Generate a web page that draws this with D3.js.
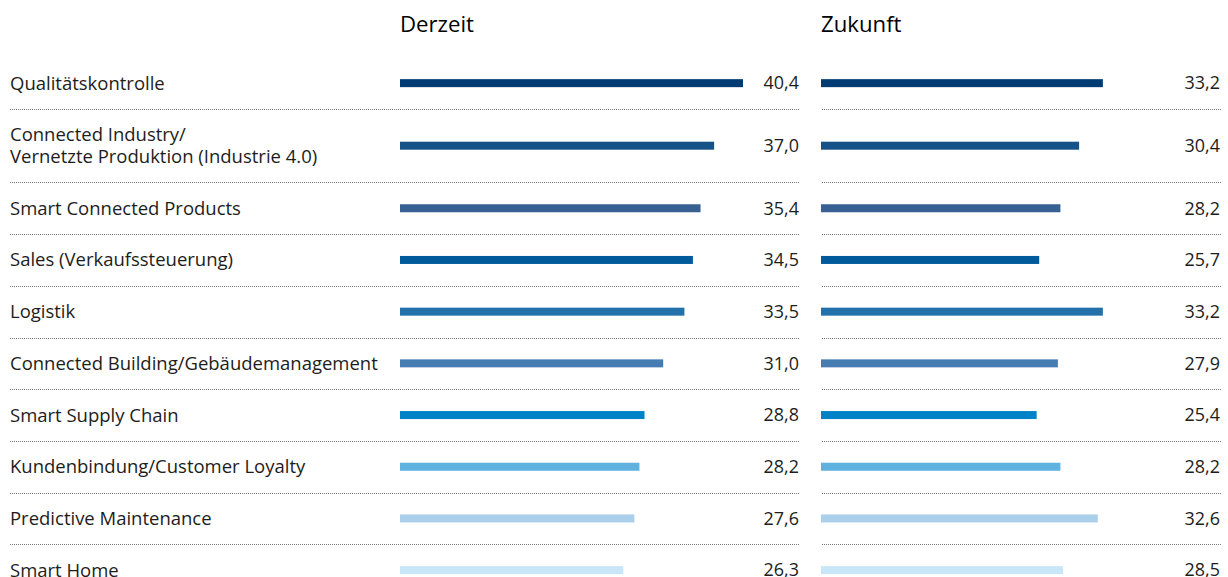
<!DOCTYPE html>
<html>
<head>
<meta charset="utf-8">
<script src="https://cdn.jsdelivr.net/npm/d3@7"></script>
<style>
  html, body { margin: 0; padding: 0; background: #fff; }
  svg { display: block; }
  text { font-family: "Open Sans", Lato, sans-serif; fill: #1d1d1b; }
</style>
</head>
<body>
<svg id="chart" width="1228" height="577"></svg>
<script>
const categories = [
  ["Qualitätskontrolle"],
  ["Connected Industry/", "Vernetzte Produktion (Industrie 4.0)"],
  ["Smart Connected Products"],
  ["Sales (Verkaufssteuerung)"],
  ["Logistik"],
  ["Connected Building/Gebäudemanagement"],
  ["Smart Supply Chain"],
  ["Kundenbindung/Customer Loyalty"],
  ["Predictive Maintenance"],
  ["Smart Home"]
];
const derzeit = [40.4, 37.0, 35.4, 34.5, 33.5, 31.0, 28.8, 28.2, 27.6, 26.3];
const zukunft = [33.2, 30.4, 28.2, 25.7, 33.2, 27.9, 25.4, 28.2, 32.6, 28.5];
const panelTitles = ["Derzeit", "Zukunft"];
const colors = ["#003c73", "#165288", "#386193", "#005a9c", "#2271aa", "#477cb3", "#0082c6", "#5fb1df", "#a9cfea", "#c8e6f8"];

const svg = d3.select("#chart");
const fmt = v => d3.format(".1f")(v).replace(".", ",");

// fit a font size so that a reference string spans a target width
function fitSize(str, targetW, weight) {
  const t = svg.append("text").attr("font-size", 100).attr("font-weight", weight || 400).text(str);
  const w = t.node().getComputedTextLength();
  t.remove();
  return 100 * targetW / w;
}
const labelSize = fitSize("Connected Building/Gebäudemanagement", 368, 400);
const titleSize = fitSize("Derzeit", 74, 500);
const valueSize = fitSize("40,4", 35.4, 400);

// layout
const top0 = 57.3, baseRow = 51.7, extraLine = 21.7;
const rowH = categories.map(c => baseRow + (c.length - 1) * extraLine);
const rowTop = [];
let acc = top0;
rowH.forEach(h => { rowTop.push(acc); acc += h; });

const x = d3.scaleLinear().domain([0, 40.4]).range([0, 343]);
const panels = [
  { title: panelTitles[0], values: derzeit, x0: 400, lineX0: 10, lineX1: 799, valueX: 799 },
  { title: panelTitles[1], values: zukunft, x0: 821, lineX0: 822, lineX1: 1221, valueX: 1220 }
];

// labels
const labels = svg.append("g");
categories.forEach((c, i) => {
  const cy = rowTop[i] + rowH[i] / 2;
  const t = labels.append("text")
    .attr("x", 10)
    .attr("font-size", labelSize);
  c.forEach((line, j) => {
    t.append("tspan")
      .attr("x", 10)
      .attr("y", cy + (j - (c.length - 1) / 2) * extraLine)
      .attr("dy", "0.35em")
      .text(line);
  });
});

panels.forEach(p => {
  const g = svg.append("g");
  g.append("text")
    .attr("x", p.x0)
    .attr("y", 32)
    .attr("font-size", titleSize)
    .attr("font-weight", 500)
    .style("fill", "#000")
    .text(p.title);

  // separators
  for (let i = 0; i < categories.length - 1; i++) {
    const y = Math.round(rowTop[i + 1]) + 0.5;
    g.append("line")
      .attr("x1", p.lineX0).attr("x2", p.lineX1)
      .attr("y1", y).attr("y2", y)
      .attr("stroke", "#7a7a7a")
      .attr("stroke-width", 1)
      .attr("stroke-dasharray", "1,1");
  }

  g.selectAll("rect.bar")
    .data(p.values)
    .join("rect")
    .attr("class", "bar")
    .attr("x", p.x0)
    .attr("y", (d, i) => rowTop[i] + rowH[i] / 2 - 4)
    .attr("width", d => x(d))
    .attr("height", 8)
    .attr("fill", (d, i) => colors[i]);

  g.selectAll("text.val")
    .data(p.values)
    .join("text")
    .attr("class", "val")
    .attr("x", p.valueX)
    .attr("y", (d, i) => rowTop[i] + rowH[i] / 2)
    .attr("dy", "0.35em")
    .attr("text-anchor", "end")
    .attr("font-size", valueSize)
    .text(d => fmt(d));
});
</script>
</body>
</html>
